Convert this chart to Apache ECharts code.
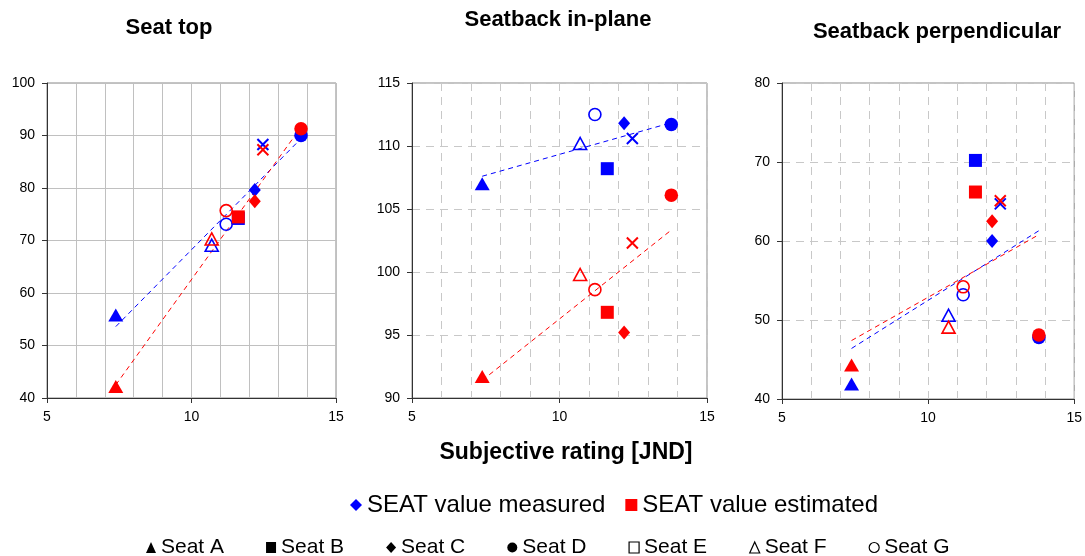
<!DOCTYPE html>
<html>
<head>
<meta charset="utf-8">
<script src="https://cdn.jsdelivr.net/npm/echarts@6/dist/echarts.min.js"></script>
<style>
html,body{margin:0;padding:0;background:#fff;}
#chart{width:1085px;height:556px;}
</style>
</head>
<body>
<div id="chart"></div>
<script>
// ---------- DATA ----------
const seats = ['Seat A', 'Seat B', 'Seat C', 'Seat D', 'Seat E', 'Seat F', 'Seat G'];
const rating = [7.38, 11.62, 12.19, 13.79, 12.47, 10.70, 11.20];

const panelTitles = ['Seat top', 'Seatback in-plane', 'Seatback perpendicular'];
const xTitle = 'Subjective rating [JND]';
const legendTypes = ['SEAT value measured', 'SEAT value estimated'];

const topMeasured   = [55.8, 74.2, 79.6, 90.0, 88.3, 69.1, 73.1];
const topEstimated  = [42.2, 74.5, 77.5, 91.3, 87.3, 70.3, 75.7];
const inplMeasured  = [107.0, 108.2, 111.8, 111.7, 110.6, 110.2, 112.5];
const inplEstimated = [91.7, 96.8, 95.2, 106.1, 102.3, 99.8, 98.6];
const perpMeasured  = [41.9, 70.2, 60.0, 47.8, 64.7, 50.6, 53.2];
const perpEstimated = [44.3, 66.2, 62.5, 48.1, 65.1, 49.1, 54.2];

// trend line end points
const topTrendMeasured   = [[7.38, 53.6], [13.75, 89.2]];
const topTrendEstimated  = [[7.38, 42.5], [13.79, 91.6]];
const inplTrendMeasured  = [[7.38, 107.6], [13.72, 111.8]];
const inplTrendEstimated = [[7.38, 91.4], [13.72, 103.2]];
const perpTrendMeasured  = [[7.38, 46.4], [13.79, 61.3]];
const perpTrendEstimated = [[7.38, 47.4], [13.79, 60.8]];

const yMin = [40, 90, 40];
const yMax = [100, 115, 80];
const yStep = [10, 5, 10];
const xMin = 5, xMax = 15, xStep = 5;

// ---------- STYLE ----------
const BLUE = '#0000ff', RED = '#ff0000';
const FONT = '"Liberation Sans", Arial, sans-serif';
const XPATH = 'path://M0,0L10,10M10,0L0,10';
const shapeStyle = [
  {symbol: 'triangle', size: [15, 13]},
  {symbol: 'rect', size: 13},
  {symbol: 'diamond', size: [12, 14]},
  {symbol: 'circle', size: 13.5},
  {symbol: XPATH, size: 11, open: true, bw: 2},
  {symbol: 'triangle', size: [13, 12], open: true, bw: 1.6},
  {symbol: 'circle', size: 12, open: true, bw: 1.6}
];
const legendIcons = [
  {icon: 'triangle'}, {icon: 'rect'}, {icon: 'diamond'}, {icon: 'circle'},
  {icon: 'rect', open: true}, {icon: 'triangle', open: true}, {icon: 'circle', open: true}
];

const grids = [
  {left: 47, top: 83, width: 289, height: 315},
  {left: 412, top: 83, width: 295, height: 315},
  {left: 782, top: 83, width: 295, height: 316}
];
const titlePos = [[169, 28], [558, 20], [937, 32]];
const dashedGrid = [false, true, true];

function points(ys, color) {
  return seats.map((s, i) => {
    const st = shapeStyle[i];
    return {
      name: s,
      value: [rating[i], ys[i]],
      symbol: st.symbol,
      symbolSize: st.size,
      itemStyle: st.open
        ? {color: 'rgba(255,255,255,0)', borderColor: color, borderWidth: st.bw, opacity: 1}
        : {color: color, borderWidth: 0, opacity: 1}
    };
  });
}

const panels = [
  {m: topMeasured, e: topEstimated, tm: topTrendMeasured, te: topTrendEstimated},
  {m: inplMeasured, e: inplEstimated, tm: inplTrendMeasured, te: inplTrendEstimated},
  {m: perpMeasured, e: perpEstimated, tm: perpTrendMeasured, te: perpTrendEstimated}
];

const xAxes = [], yAxes = [], series = [];
panels.forEach((p, k) => {
  const lineType = dashedGrid[k] ? [8, 6] : 'solid';
  const gridColor = dashedGrid[k] ? '#c8c8c8' : '#c0c0c0';
  xAxes.push({
    type: 'value', gridIndex: k, min: xMin, max: xMax, interval: xStep,
    axisLine: {show: true, onZero: false, lineStyle: {color: '#333', width: 1}},
    axisTick: {show: true, inside: false, length: 5, lineStyle: {color: '#333'}},
    axisLabel: {color: '#000', fontSize: 14, fontFamily: FONT, margin: 12},
    splitLine: {show: true, lineStyle: {color: gridColor, type: lineType, width: 1}},
    minorTick: {show: false, splitNumber: 5},
    minorSplitLine: {show: true, lineStyle: {color: gridColor, type: lineType, width: 1}}
  });
  yAxes.push({
    type: 'value', gridIndex: k, min: yMin[k], max: yMax[k], interval: yStep[k],
    axisLine: {show: true, onZero: false, lineStyle: {color: '#333', width: 1}},
    axisTick: {show: true, inside: false, length: 5, lineStyle: {color: '#333'}},
    axisLabel: {color: '#000', fontSize: 14, fontFamily: FONT, margin: 12},
    splitLine: {show: true, lineStyle: {color: gridColor, type: lineType, width: 1}}
  });
  series.push({
    type: 'line', xAxisIndex: k, yAxisIndex: k, data: p.tm, symbol: 'none', silent: true,
    lineStyle: {color: BLUE, width: 1, type: [5, 4]}, z: 3
  });
  series.push({
    type: 'line', xAxisIndex: k, yAxisIndex: k, data: p.te, symbol: 'none', silent: true,
    lineStyle: {color: RED, width: 1, type: [5, 4]}, z: 3
  });
  series.push({
    type: 'scatter', xAxisIndex: k, yAxisIndex: k, data: points(p.m, BLUE), z: 4,
    itemStyle: {color: BLUE, opacity: 1}, emphasis: {disabled: true}
  });
  series.push({
    type: 'scatter', xAxisIndex: k, yAxisIndex: k, data: points(p.e, RED), z: 5,
    itemStyle: {color: RED, opacity: 1}, emphasis: {disabled: true}
  });
});

// legend-only series
series.push({name: legendTypes[0], type: 'scatter', data: [], itemStyle: {color: BLUE, opacity: 1}});
series.push({name: legendTypes[1], type: 'scatter', data: [], itemStyle: {color: RED, opacity: 1}});
seats.forEach(s => series.push({name: s, type: 'scatter', data: [], itemStyle: {color: '#000', opacity: 1}}));

const graphics = panelTitles.map((t, k) => ({
  type: 'text', x: titlePos[k][0], y: titlePos[k][1],
  style: {text: t, font: 'bold 22px ' + FONT, fill: '#000', textAlign: 'center', textVerticalAlign: 'middle'}
}));
graphics.push({
  type: 'text', x: 566, y: 453,
  style: {text: xTitle, font: 'bold 23px ' + FONT, fill: '#000', textAlign: 'center', textVerticalAlign: 'middle'}
});

const option = {
  animation: false,
  backgroundColor: '#fff',
  grid: grids.map(g => Object.assign({show: true, borderColor: '#888', borderWidth: 1, backgroundColor: 'transparent', containLabel: false}, g)),
  xAxis: xAxes,
  yAxis: yAxes,
  legend: [
    {
      left: 345, top: 488, selectedMode: false, itemWidth: 12, itemHeight: 12, itemGap: 20,
      textStyle: {fontSize: 24, fontFamily: FONT, color: '#000'},
      data: [
        {name: legendTypes[0], icon: 'diamond'},
        {name: legendTypes[1], icon: 'rect'}
      ]
    },
    {
      left: 141, top: 532, selectedMode: false, itemWidth: 10, itemHeight: 11, itemGap: 42,
      textStyle: {fontSize: 21, fontFamily: FONT, color: '#000'},
      data: seats.map((s, i) => legendIcons[i].open
        ? {name: s, icon: legendIcons[i].icon, itemStyle: {color: '#fff', borderColor: '#000', borderWidth: 1.2}}
        : {name: s, icon: legendIcons[i].icon, itemStyle: {color: '#000', borderWidth: 0}})
    }
  ],
  graphic: graphics,
  series: series
};

const chart = echarts.init(document.getElementById('chart'), null, {renderer: 'canvas'});
chart.setOption(option);
</script>
</body>
</html>
